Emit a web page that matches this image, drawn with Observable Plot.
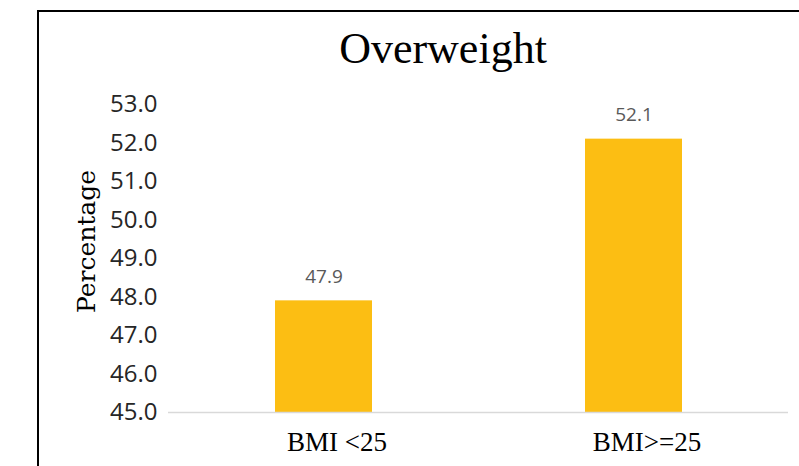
<!DOCTYPE html>
<html>
<head>
<meta charset="utf-8">
<script src="https://cdn.jsdelivr.net/npm/d3@7"></script>
<script src="https://cdn.jsdelivr.net/npm/@observablehq/plot@0.6"></script>
<style>
  html, body { margin: 0; padding: 0; background: #fff; }
  #page { position: relative; width: 799px; height: 466px; overflow: hidden; }
  #frame {
    position: absolute; left: 37px; top: 10px; width: 1000px; height: 1000px;
    border-left: 2px solid #000; border-top: 2px solid #000;
    box-sizing: border-box; pointer-events: none; z-index: 2;
  }
  #title {
    position: absolute; left: 0; top: 27px; width: 886px; text-align: center;
    font-family: "Liberation Serif", serif; font-size: 44px; line-height: 44px; color: #000;
  }
  #chart { position: absolute; left: 0; top: 60px; }
</style>
</head>
<body>
<div id="page">
  <div id="title">Overweight</div>
  <div id="chart"></div>
  <div id="frame"></div>
</div>
<script>
// Share of respondents by BMI group
const categories = ["BMI <25", "BMI>=25"];
const values = [47.9, 52.1];
const yTicks = [45, 46, 47, 48, 49, 50, 51, 52, 53];
const yTitle = "Percentage";

const data = categories.map((category, i) => ({category, value: values[i]}));

const chart = Plot.plot({
  width: 799,
  height: 406,
  marginLeft: 168,
  marginRight: 11,
  marginTop: 44,
  marginBottom: 54,
  style: {background: "transparent", overflow: "visible"},
  x: {domain: categories, paddingInner: 0.6876, paddingOuter: 0.342, label: null},
  y: {domain: [45, 53], label: null},
  marks: [
    Plot.barY(data, {x: "category", y1: 45, y2: "value", fill: "#fcbe13"}),
    Plot.ruleY([45], {stroke: "#d9d9d9", strokeWidth: 1.5}),
    Plot.text(data, {
      x: "category", y: "value", text: d => d.value.toFixed(1),
      dy: -24, fill: "#595959", fontSize: 19, fontFamily: "Open Sans"
    }),
    Plot.axisY({
      ticks: yTicks, tickSize: 0, tickPadding: 11, tickFormat: d3.format(".1f"),
      fontSize: 24, fontFamily: "Open Sans", fill: "#262626", label: null
    }),
    Plot.axisX({
      tickSize: 0, tickPadding: 19, dx: 13, fontSize: 27, fontFamily: "Liberation Serif",
      fill: "#000", label: null
    }),
    Plot.text([yTitle], {
      frameAnchor: "left", rotate: -90, textAnchor: "middle",
      dx: -82, dy: -17, fontSize: 25, fontFamily: "DejaVu Serif", fill: "#000"
    })
  ]
});

document.getElementById("chart").appendChild(chart);
</script>
</body>
</html>
